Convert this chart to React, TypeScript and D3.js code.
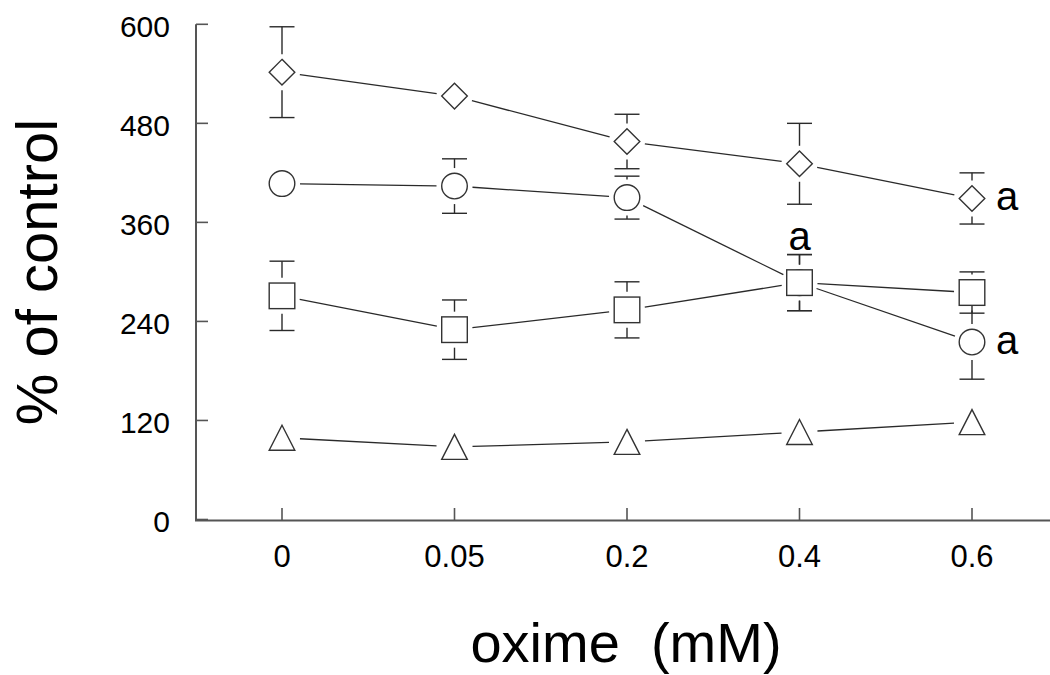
import React from "react";
import * as d3 from "d3";

const categories = ["0", "0.05", "0.2", "0.4", "0.6"];
const yTicks = [0, 120, 240, 360, 480, 600];

const diamondValues = [542, 513, 458, 431, 389];
const diamondErrors = [55, 0, 33, 49, 31];
const circleValues = [407, 404, 390, 287, 215];
const circleErrors = [0, 33, 26, 34, 45];
const squareValues = [271, 230, 254, 287, 275];
const squareErrors = [42, 36, 34, 34, 25];
const triangleValues = [99, 88, 94, 106, 118];
const triangleErrors = [0, 0, 0, 0, 0];

const sigLabels = [
  { series: "diamond", index: 4, text: "a", pos: "right" },
  { series: "circle", index: 4, text: "a", pos: "right" },
  { series: "square", index: 3, text: "a", pos: "top" },
];

const W = 1050;
const H = 675;
const FONT = "Liberation Sans, Arial, sans-serif";

export default function App() {
  const x = d3.scalePoint<string>().domain(categories).range([282, 972]);
  const y = d3.scaleLinear().domain([0, 600]).range([519.5, 24.3]);

  const series = [
    { name: "diamond", values: diamondValues, errors: diamondErrors },
    { name: "circle", values: circleValues, errors: circleErrors },
    { name: "square", values: squareValues, errors: squareErrors },
    { name: "triangle", values: triangleValues, errors: triangleErrors },
  ];

  const GAP = 18;
  const stroke = "#2a2a2a";

  const marker = (shape: string, cx: number, cy: number, key: string) => {
    const r = 12.8;
    const common = { fill: "white", stroke: "#333", strokeWidth: 1.4, key };
    if (shape === "circle") return <circle cx={cx} cy={cy} r={r} {...common} />;
    if (shape === "square")
      return <rect x={cx - r} y={cy - r} width={2 * r} height={2 * r} {...common} />;
    if (shape === "diamond")
      return (
        <path
          d={`M${cx},${cy - r}L${cx + r},${cy}L${cx},${cy + r}L${cx - r},${cy}Z`}
          {...common}
        />
      );
    return (
      <path
        d={`M${cx},${cy - 12.5}L${cx + 12.8},${cy + 12.5}L${cx - 12.8},${cy + 12.5}Z`}
        {...common}
      />
    );
  };

  const segs: JSX.Element[] = [];
  const errs: JSX.Element[] = [];
  const marks: JSX.Element[] = [];

  series.forEach((s) => {
    const pts = s.values.map((v, i) => [x(categories[i])!, y(v)] as [number, number]);
    for (let i = 0; i < pts.length - 1; i++) {
      const [x1, y1] = pts[i];
      const [x2, y2] = pts[i + 1];
      const len = Math.hypot(x2 - x1, y2 - y1);
      const ux = (x2 - x1) / len;
      const uy = (y2 - y1) / len;
      segs.push(
        <line
          key={`${s.name}-seg-${i}`}
          x1={x1 + ux * GAP}
          y1={y1 + uy * GAP}
          x2={x2 - ux * GAP}
          y2={y2 - uy * GAP}
          stroke={stroke}
          strokeWidth={1.3}
        />
      );
    }
    pts.forEach(([cx, cy], i) => {
      const e = s.errors[i];
      if (e > 0) {
        const top = y(s.values[i] + e);
        const bot = y(s.values[i] - e);
        [top, bot].forEach((ey, j) => {
          const dir = j === 0 ? -1 : 1;
          errs.push(
            <line
              key={`${s.name}-cap-${i}-${j}`}
              x1={cx - 12.5}
              x2={cx + 12.5}
              y1={ey}
              y2={ey}
              stroke={stroke}
              strokeWidth={1.4}
            />
          );
          if (Math.abs(ey - cy) > GAP) {
            errs.push(
              <line
                key={`${s.name}-stem-${i}-${j}`}
                x1={cx}
                x2={cx}
                y1={ey}
                y2={cy + dir * GAP}
                stroke={stroke}
                strokeWidth={1.4}
              />
            );
          }
        });
      }
      marks.push(marker(s.name, cx, cy, `${s.name}-m-${i}`));
    });
  });

  const valueOf = (name: string, i: number) =>
    series.find((s) => s.name === name)!.values[i];

  return (
    <svg
      width={W}
      height={H}
      style={{ position: "absolute", left: 0, top: 0, background: "white" }}
      fontFamily={FONT}
    >
      <rect width={W} height={H} fill="white" />
      <line x1={196} x2={196} y1={24.3} y2={521} stroke="#555" strokeWidth={2} />
      <line x1={195} x2={1050} y1={520.5} y2={520.5} stroke="#555" strokeWidth={2} />
      {yTicks.map((t) => (
        <g key={`yt-${t}`}>
          <line x1={196} x2={208} y1={y(t)} y2={y(t)} stroke="#555" strokeWidth={1.6} />
          <text x={170} y={y(t) + 12.5} textAnchor="end" fontSize={30} fill="#000">
            {t}
          </text>
        </g>
      ))}
      {categories.map((c) => (
        <g key={`xt-${c}`}>
          <line x1={x(c)} x2={x(c)} y1={508} y2={520} stroke="#555" strokeWidth={1.6} />
          <text x={x(c)} y={567} textAnchor="middle" fontSize={31} fill="#000">
            {c}
          </text>
        </g>
      ))}
      {segs}
      {errs}
      {marks}
      {sigLabels.map((l, k) => {
        const cx = x(categories[l.index])!;
        const cy = y(valueOf(l.series, l.index));
        return l.pos === "right" ? (
          <text key={`sig-${k}`} x={cx + 24} y={cy + 12} fontSize={40} fill="#000">
            {l.text}
          </text>
        ) : (
          <text key={`sig-${k}`} x={cx} y={250} textAnchor="middle" fontSize={40} fill="#000">
            {l.text}
          </text>
        );
      })}
      <text
        transform="translate(57,272) rotate(-90)"
        textAnchor="middle"
        fontSize={58}
        fill="#000"
      >
        % of control
      </text>
      <text x={626} y={662} textAnchor="middle" fontSize={56} fill="#000" style={{ whiteSpace: "pre" }}>
        {"oxime  (mM)"}
      </text>
    </svg>
  );
}
